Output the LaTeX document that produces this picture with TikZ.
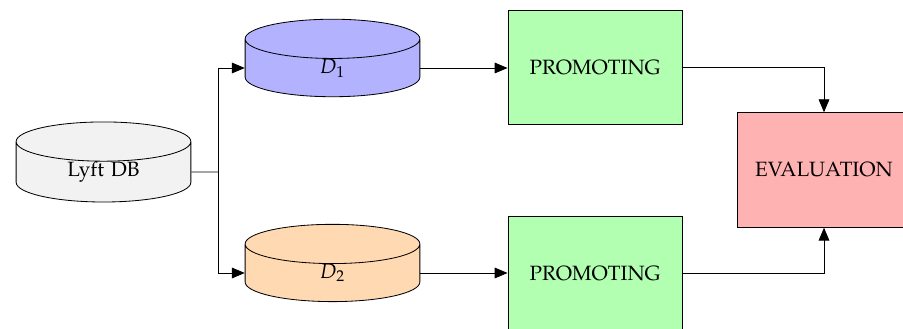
\documentclass[tikz,border=0pt]{standalone}
\usepackage[T1]{fontenc}
\usepackage{mathpazo}
\usepackage{tikz}
\usetikzlibrary{arrows,positioning}
\usetikzlibrary{shapes.geometric}
\tikzset{db/.style={cylinder, shape border rotate=90, draw, aspect=0.23,
  text width=2.9cm, align=center, minimum width=2.97cm,
  minimum height=0.96cm, inner sep=0pt}}
\tikzset{blk/.style={rectangle, draw, minimum width=2.96cm,
  minimum height=1.95cm, inner sep=0pt}}
\tikzset{a/.style={draw, -triangle 45}}

\begin{document}
\begin{tikzpicture}[x=0.017cm,y=-0.017cm]
        \useasboundingbox (0,0) rectangle (903,329);
        %% sources
        \node (lyft) at (103.5,172) [db, fill=gray!10] {Lyft DB};
        \node (d1) at (332.5,68) [db, fill=blue!30] {$D_1$};
        \node (d2) at (332.5,273) [db, fill=orange!30] {$D_2$};
        %% processing
        \node (p1) at (595,67.5) [blk, fill=green!30] {PROMOTING};
        \node (p2) at (595,273.5) [blk, fill=green!30] {PROMOTING};
        \node (ev) at (824,170) [blk, fill=red!30] {EVALUATION};
        \coordinate (split) at (218,172);
        \draw (lyft.east) -- (split);
        \draw [a] (split) |- (d1.west);
        \draw [a] (split) |- (d2.west);
        \draw [a] (d1.east) -- (d1.east -| p1.west);
        \draw [a] (d2.east) -- (d2.east -| p2.west);
        \draw [a] (p1) -| (ev.north);
        \draw [a] (p2) -| (ev.south);
    \end{tikzpicture}
\end{document}
